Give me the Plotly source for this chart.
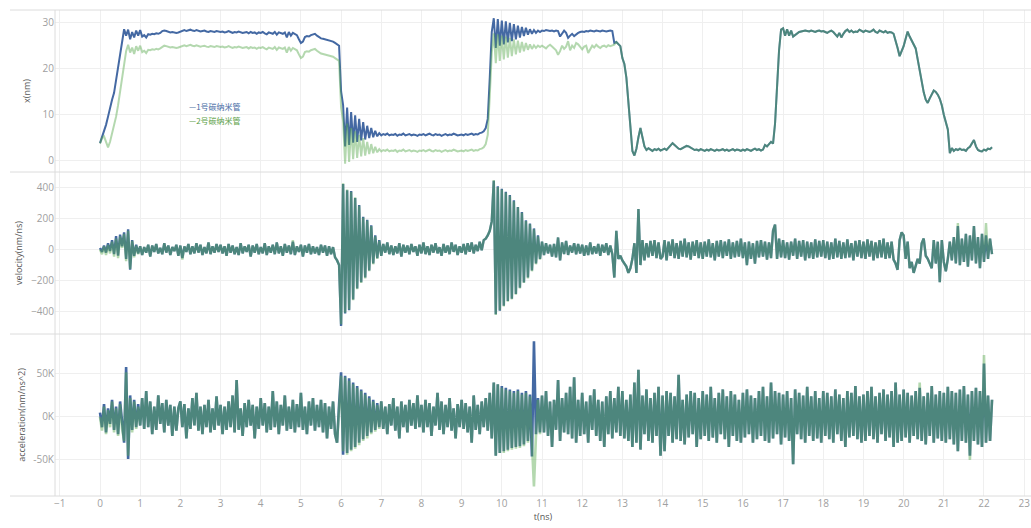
import numpy as np
import plotly.graph_objects as go
from plotly.subplots import make_subplots

# sampling interval of the recorded series (ns)
T_STEP = 0.05

# ---- displacement x(nm) ----
X1 = [
    3.7, 5.0, 6.3, 7.7, 9.5, 11.5, 13.2, 14.7, 17.5, 20.5, 23.5, 26.5, 28.6, 27.2, 28.5, 26.4, 28.0, 26.8, 28.3, 27.2,
    28.4, 27.0, 27.3, 26.8, 27.5, 27.4, 27.6, 27.5, 27.7, 27.6, 27.8, 28.2, 28.3, 28.2, 28.0, 27.9, 28.0, 27.9, 27.8, 27.9,
    28.1, 28.3, 28.4, 28.2, 28.4, 28.5, 28.3, 28.2, 28.4, 28.3, 28.1, 28.2, 28.3, 28.1, 28.0, 28.2, 28.1, 28.0, 28.2, 28.1,
    28.0, 28.1, 27.9, 28.0, 28.2, 28.0, 27.8, 28.0, 27.9, 28.1, 28.0, 27.8, 27.9, 28.0, 27.7, 28.0, 27.8, 27.9, 27.6, 27.9,
    27.8, 28.0, 27.7, 27.5, 27.9, 27.8, 27.6, 28.0, 27.4, 27.9, 27.8, 27.6, 27.9, 26.8, 28.0, 27.2, 27.8, 27.6, 27.3, 26.4,
    25.6, 25.9, 26.9, 27.1, 27.0, 27.3, 27.4, 27.6, 27.2, 26.8, 26.6, 26.5, 26.4, 26.3, 26.2, 26.1, 25.9, 25.6, 25.3, 25.0,
    15.0, 12.0, 3.0, 11.5, 3.3, 10.5, 3.8, 9.8, 4.0, 9.0, 4.3, 8.3, 4.5, 7.5, 4.8, 7.0, 5.0, 6.4, 5.2, 5.9,
    5.4, 5.7, 5.5, 5.8, 5.4, 5.6, 5.5, 5.7, 5.3, 5.6, 5.5, 5.8, 5.4, 5.5, 5.7, 5.4, 5.6, 5.5, 5.3, 5.6,
    5.5, 5.7, 5.4, 5.6, 5.8, 5.5, 5.4, 5.7, 5.5, 5.6, 5.3, 5.5, 5.7, 5.4, 5.6, 5.5, 5.8, 5.6, 5.4, 5.5,
    5.6, 5.4, 5.7, 5.5, 5.6, 5.8, 5.5, 5.7, 5.6, 5.9, 6.0, 6.3, 7.0, 9.0, 18.0, 28.0, 31.0, 24.5, 30.8, 25.0,
    30.5, 25.3, 30.3, 25.7, 30.0, 26.0, 29.7, 26.4, 29.4, 26.8, 29.1, 27.1, 28.9, 27.4, 28.6, 27.6, 28.4, 27.8, 28.3, 28.0,
    28.3, 28.2, 28.4, 28.3, 28.2, 28.3, 28.1, 28.3, 28.2, 27.0, 27.6, 28.3, 27.8, 26.7, 27.2, 27.6, 27.1, 27.5, 27.8, 28.0,
    28.1, 28.0, 28.2, 28.1, 28.3, 28.2, 28.1, 28.3, 28.2, 28.1, 28.3, 28.2, 28.1, 28.2, 28.3, 28.2, 25.6, 25.8, 25.3, 24.9,
    22.3, 21.0, 18.0, 12.0, 6.0, 2.0, 1.0, 2.5, 5.0, 7.0, 5.0, 3.0, 2.2, 2.6, 2.3, 2.0, 2.4, 2.2, 2.5, 2.1,
    2.3, 2.5, 2.2, 2.6, 3.2, 3.7, 3.3, 2.8, 2.5, 2.4, 2.6, 2.9, 3.1, 3.0, 2.7, 2.4, 2.2, 2.3, 2.1, 2.4,
    2.2, 2.0, 2.3, 2.1, 2.4, 2.2, 2.0, 2.3, 2.1, 2.2, 2.4, 2.1, 2.3, 2.0, 2.2, 2.4, 2.1, 2.3, 2.2, 2.0,
    2.3, 2.1, 2.4, 2.2, 2.0, 2.3, 2.5, 2.2, 2.4, 2.1, 2.3, 3.3, 3.0, 3.5, 4.0, 3.6, 8.0, 16.0, 24.0, 28.5,
    28.8, 27.2, 28.6, 27.2, 28.3, 27.0, 27.4, 27.6, 28.0, 28.1, 28.2, 28.3, 28.2, 28.1, 28.3, 28.2, 28.0, 28.2, 28.3, 28.1,
    28.2, 28.0, 27.8, 28.1, 28.3, 28.0, 27.5, 27.0, 27.8, 26.8, 27.6, 28.2, 28.5, 28.0, 28.3, 27.9, 28.1, 28.0, 28.5, 28.2,
    28.0, 28.3, 28.1, 28.0, 28.2, 28.5, 28.0, 27.8, 28.3, 28.1, 27.9, 28.2, 27.8, 28.0, 27.9, 27.6, 26.3, 24.5, 22.7, 23.8,
    24.9, 26.5, 28.1, 27.0, 26.0, 25.0, 24.4, 22.0, 19.5, 17.0, 14.8, 13.2, 12.5, 13.5, 14.5, 15.2, 14.9, 14.3, 13.4, 12.0,
    9.9, 8.5, 6.7, 1.5, 2.6, 2.0, 2.4, 2.2, 2.5, 2.2, 2.3, 2.0, 2.6, 2.9, 3.7, 4.4, 3.0, 2.2, 2.0, 1.9,
    2.3, 2.1, 2.5, 2.4, 2.8,
]
X2 = [
    3.6, 4.8, 5.2, 3.8, 2.8, 4.0, 5.8, 7.5, 9.5, 12.0, 15.0, 18.5, 21.5, 23.8, 25.2, 23.5, 24.6, 23.2, 24.9, 23.9,
    25.0, 23.6, 23.9, 23.4, 24.1, 24.0, 24.2, 24.1, 24.3, 24.2, 24.4, 24.8, 25.0, 24.9, 24.7, 24.6, 24.7, 24.6, 24.5, 24.6,
    24.8, 25.0, 25.1, 24.9, 25.1, 25.2, 25.0, 24.9, 25.1, 25.0, 24.8, 24.9, 25.0, 24.8, 24.7, 24.9, 24.8, 24.7, 24.9, 24.8,
    24.7, 24.8, 24.6, 24.7, 24.9, 24.7, 24.5, 24.7, 24.6, 24.8, 24.7, 24.5, 24.6, 24.7, 24.4, 24.7, 24.5, 24.6, 24.3, 24.6,
    24.5, 24.7, 24.4, 24.2, 24.6, 24.5, 24.3, 24.7, 24.1, 24.6, 24.5, 24.3, 24.6, 23.5, 24.7, 23.9, 24.5, 24.3, 24.0, 23.1,
    22.3, 22.6, 23.6, 23.8, 23.7, 24.0, 24.1, 24.3, 23.9, 23.5, 23.3, 23.2, 23.1, 23.0, 22.9, 22.8, 22.6, 22.3, 22.0, 21.7,
    11.5, 8.5, -0.8, 8.0, -0.4, 7.0, 0.2, 6.3, 0.5, 5.5, 0.8, 4.8, 1.0, 4.0, 1.3, 3.5, 1.5, 2.9, 1.7, 2.4,
    1.9, 2.2, 2.0, 2.3, 1.9, 2.1, 2.0, 2.2, 1.8, 2.1, 2.0, 2.3, 1.9, 2.0, 2.2, 1.9, 2.1, 2.0, 1.8, 2.1,
    2.0, 2.2, 1.9, 2.1, 2.3, 2.0, 1.9, 2.2, 2.0, 2.1, 1.8, 2.0, 2.2, 1.9, 2.1, 2.0, 2.3, 2.1, 1.9, 2.0,
    2.1, 1.9, 2.2, 2.0, 2.1, 2.3, 2.0, 2.2, 2.1, 2.4, 2.5, 2.8, 3.5, 5.5, 14.0, 23.5, 27.7, 21.2, 27.5, 21.7,
    27.2, 22.0, 27.0, 22.4, 26.7, 22.7, 26.4, 23.1, 26.1, 23.5, 25.8, 23.8, 25.6, 24.1, 25.3, 24.3, 25.1, 24.5, 25.0, 24.7,
    25.0, 24.6, 24.4, 24.9, 25.2, 24.8, 24.4, 24.0, 23.0, 23.8, 25.0, 24.3, 24.8, 26.0, 24.0, 25.0, 24.5, 25.6, 25.3, 24.8,
    24.2, 24.8, 25.0, 23.4, 24.1, 25.0, 24.6, 25.2, 24.8, 24.5, 24.9, 25.0, 24.7, 25.1, 24.9, 25.0, 25.2, 25.8, 25.3, 24.9,
    22.3, 21.0, 18.0, 12.0, 6.0, 2.0, 1.0, 2.5, 5.0, 7.0, 5.0, 3.0, 2.2, 2.6, 2.3, 2.0, 2.4, 2.2, 2.5, 2.1,
    2.3, 2.5, 2.2, 2.6, 3.2, 3.7, 3.3, 2.8, 2.5, 2.4, 2.6, 2.9, 3.1, 3.0, 2.7, 2.4, 2.2, 2.3, 2.1, 2.4,
    2.2, 2.0, 2.3, 2.1, 2.4, 2.2, 2.0, 2.3, 2.1, 2.2, 2.4, 2.1, 2.3, 2.0, 2.2, 2.4, 2.1, 2.3, 2.2, 2.0,
    2.3, 2.1, 2.4, 2.2, 2.0, 2.3, 2.5, 2.2, 2.4, 2.1, 2.3, 3.3, 3.0, 3.5, 4.0, 3.6, 8.0, 16.0, 24.0, 28.5,
    28.8, 27.2, 28.6, 27.2, 28.3, 27.0, 27.4, 27.6, 28.0, 28.1, 28.2, 28.3, 28.2, 28.1, 28.3, 28.2, 28.0, 28.2, 28.3, 28.1,
    28.2, 28.0, 27.8, 28.1, 28.3, 28.0, 27.5, 27.0, 27.8, 26.8, 27.6, 28.2, 28.5, 28.0, 28.3, 27.9, 28.1, 28.0, 28.5, 28.2,
    28.0, 28.3, 28.1, 28.0, 28.2, 28.5, 28.0, 27.8, 28.3, 28.1, 27.9, 28.2, 27.8, 28.0, 27.9, 27.6, 26.3, 24.5, 22.7, 23.8,
    24.9, 26.5, 28.1, 27.0, 26.0, 25.0, 24.4, 22.0, 19.5, 17.0, 14.8, 13.2, 12.5, 13.5, 14.5, 15.2, 14.9, 14.3, 13.4, 12.0,
    9.9, 8.5, 6.7, 1.5, 2.6, 2.0, 2.4, 2.2, 2.5, 2.2, 2.3, 2.0, 2.6, 2.9, 3.7, 4.4, 3.0, 2.2, 2.0, 1.9,
    2.3, 2.1, 2.5, 2.4, 2.8,
]

# ---- velocity (nm/ns) ----
V1 = [
    10, -15, 25, -20, 40, -10, 60, -30, 85, -40, 95, 20, 110, -60, 130, -130, 60, -40, 30, -25,
    20, -35, 15, -20, 30, -45, 25, -15, 35, -25, 10, -30, 40, -20, 25, -35, 15, -10, 30, -40,
    25, -55, 20, -15, 35, -30, 20, -25, 40, -20, 30, -35, 15, -25, 45, -30, 20, -20, 35, -15,
    30, -25, 20, -40, 35, -20, 25, -30, 15, -35, 40, -25, 20, -15, 30, -45, 25, -20, 35, -30,
    15, -25, 40, -35, 20, -20, 30, -30, 45, -25, 20, -40, 35, -20, 25, -30, 50, -35, 20, -15,
    30, -45, 25, -20, 35, -30, 20, -25, 15, -35, 30, -20, 25, -40, 20, -30, 15, -50, -70, -100,
    -490, 420, -410, 380, -390, 375, -320, 330, -250, 285, -210, 210, -180, 190, -135, 155, -90, 90, -55, 60,
    -40, 35, -20, 45, -30, 25, -35, 20, -25, 40, -45, 30, -20, 25, -30, 35, -15, 20, -40, 30,
    -25, 45, -30, 20, -35, 30, -20, 40, -25, 15, -40, 35, -20, 25, -30, 45, -15, 30, -35, 20,
    -20, 35, -30, 40, -15, 45, -25, 30, -10, 50, -5, 60, 70, 90, 120, 180, 440, -415, 405, -393,
    390, -360, 370, -330, 350, -316, 315, -285, 273, -245, 240, -212, 187, -180, 167, -135, 135, -90, 90, -60,
    50, -35, 40, -25, 30, -45, 35, -50, 77, -70, 45, -30, 55, -35, 25, -20, 40, -30, 35, -25,
    30, -40, 25, -35, 45, -30, 20, -25, 35, -40, 30, -20, 40, -35, 25, -30, -180, 120, -60, -40,
    -70, -90, -110, -150, -120, -60, 40, -150, 260, -100, 60, -70, 40, -50, 55, -40, 60, -55, 45, -60,
    -45, 60, -70, 50, -40, 65, -55, 40, -60, 55, -45, 70, -50, 45, -65, 50, -40, 60, -55, 45,
    -60, 50, -45, 65, -50, 40, -70, 55, -45, 60, -55, 50, -40, 65, -60, 45, -50, 55, -45, 70,
    -55, 45, -100, 50, -60, 40, -90, 55, -50, 60, -45, 50, -65, 45, -55, 120, 160, -60, 70, -50,
    60, -55, 45, -65, 50, -40, 70, -60, 55, -45, 60, -70, 50, -55, 45, -60, 65, -50, 55, -45,
    60, -55, 50, -65, 45, -60, 70, -50, 55, -60, 45, -55, 65, -50, 40, -70, 55, -45, 60, -55,
    50, -60, 65, -45, 55, -70, 45, -55, 60, -50, 70, -60, 45, -55, 50, -65, -90, -130, 60, 110,
    90, -60, 50, -120, -80, -150, -110, -60, -90, 40, 70, -40, -60, -90, -120, 60, -90, 50, -210, 60,
    -80, -140, -60, 50, -70, 80, -90, 150, -100, 70, -80, 100, -110, 90, -70, 150, -90, 80, -120, 100,
    -80, 90, -60, 70, -30,
]
V2 = [
    0, -30, 20, -35, 30, -25, 50, -45, 70, -55, 85, 10, 100, -75, 120, -125, 55, -50, 25, -30,
    20, -35, 15, -20, 30, -45, 25, -15, 35, -25, 10, -30, 40, -20, 25, -35, 15, -10, 30, -40,
    25, -65, 20, -15, 35, -30, 20, -25, 40, -20, 30, -35, 15, -25, 45, -30, 20, -20, 35, -15,
    30, -25, 20, -40, 35, -20, 25, -30, 15, -35, 40, -25, 20, -15, 30, -45, 25, -20, 35, -30,
    15, -25, 40, -35, 20, -20, 30, -30, 45, -25, 20, -40, 35, -20, 25, -30, 60, -35, 20, -15,
    30, -45, 25, -20, 35, -30, 20, -25, 15, -35, 30, -20, 25, -40, 20, -30, 15, -50, -70, -100,
    -480, 425, -405, 385, -385, 370, -325, 335, -255, 280, -215, 205, -185, 185, -140, 150, -95, 85, -60, 55,
    -40, 35, -20, 45, -30, 25, -35, 20, -25, 40, -45, 30, -20, 25, -30, 35, -15, 20, -40, 30,
    -25, 45, -30, 20, -35, 30, -20, 40, -25, 15, -40, 35, -20, 25, -30, 45, -15, 30, -35, 20,
    -20, 35, -30, 40, -15, 45, -25, 30, -10, 50, -5, 60, 70, 90, 120, 180, 445, -420, 400, -390,
    385, -365, 365, -335, 345, -320, 310, -290, 270, -250, 235, -215, 182, -185, 162, -140, 130, -95, 85, -65,
    50, -35, 40, -25, 30, -45, 35, -50, 77, -70, 45, -30, 55, -35, 25, -20, 40, -30, 35, -25,
    30, -40, 25, -35, 45, -30, 20, -25, 35, -40, 30, -20, 40, -35, 25, -30, -180, 120, -60, -40,
    -70, -90, -110, -150, -120, -60, 40, -150, 260, -100, 60, -70, 40, -50, 55, -40, 60, -55, 45, -60,
    -45, 60, -70, 50, -40, 65, -55, 40, -60, 55, -45, 70, -50, 45, -65, 50, -40, 60, -55, 45,
    -60, 50, -45, 65, -50, 40, -70, 55, -45, 60, -55, 50, -40, 65, -60, 45, -50, 55, -45, 70,
    -55, 45, -100, 50, -60, 40, -90, 55, -50, 60, -45, 50, -65, 45, -55, 120, 160, -60, 70, -50,
    60, -55, 45, -65, 50, -40, 70, -60, 55, -45, 60, -70, 50, -55, 45, -60, 65, -50, 55, -45,
    60, -55, 50, -65, 45, -60, 70, -50, 55, -60, 45, -55, 65, -50, 40, -70, 55, -45, 60, -55,
    50, -60, 65, -45, 55, -70, 45, -55, 60, -50, 70, -60, 45, -55, 50, -65, -90, -130, 60, 110,
    90, -60, 50, -120, -80, -150, -110, -60, -90, 40, 70, -40, -60, -90, -120, 60, -90, 50, -210, 60,
    -80, -140, -60, 50, -70, 80, -90, 170, -100, 70, -80, 100, -110, 90, -70, 150, -90, 80, -120, 100,
    -80, 170, -60, 70, -30,
]

# ---- acceleration (thousands of nm/ns^2) ----
A1 = [
    5, -12, 15, -18, 10, -8, 20, -15, 12, -20, 18, -10, -30, 58, -49, 25, -15, 20, -12, 15,
    -10, 22, -14, 30, -12, 18, -20, 12, -15, 25, -8, 16, -18, 20, -10, 14, -22, 12, -16, 10,
    18, -12, 15, -25, 10, -14, 22, -10, 28, -16, 12, -20, 14, -12, 20, -18, 10, -15, 24, -10,
    14, -20, 12, -15, 18, -12, 25, -18, 43, -15, 10, -22, 16, -12, 20, -10, 14, -25, 12, -14,
    22, -10, 16, -18, 12, -15, 30, -12, 18, -20, 14, -10, 25, -16, 12, -14, 20, -18, 15, -12,
    28, -15, 12, -20, 18, -10, 22, -16, 14, -12, 20, -18, 16, -25, 12, -14, 18, -20, -30, 15,
    52, -44, 48, -42, 45, -38, 40, -35, 36, -30, 32, -26, 28, -22, 24, -18, 20, -15, 16, -12,
    18, -14, 12, -20, 15, -10, 22, -16, 12, -25, 18, -12, 14, -18, 20, -10, 16, -14, 25, -12,
    14, -18, 20, -12, 16, -22, 12, -10, 28, -15, 18, -20, 14, -12, 22, -16, 10, -25, 15, -12,
    20, -14, 16, -18, 12, -30, 25, -15, 14, -20, 18, -12, 22, -16, 28, -25, 40, -45, 38, -42,
    36, -40, 34, -38, 32, -36, 30, -35, 32, -34, 28, -32, 30, -28, 26, -46, 88, -20, 22, -18,
    25, -18, 30, -22, 18, -35, 20, -15, 43, -28, 22, -18, 28, -20, 35, -25, 46, -30, 20, -22,
    28, -20, 18, -30, 25, -15, 32, -22, 20, -28, 18, -35, 24, -20, 30, -25, 22, -18, 35, -22,
    30, -25, 20, -28, 26, -35, 40, -30, 55, -38, 25, -20, 32, -28, 22, -30, 28, -22, 35, -45,
    25, -40, 30, -22, 28, -30, 24, -26, 49, -28, 20, -32, 26, -24, 30, -20, 28, -35, 22, -26,
    30, -22, 26, -28, 35, -24, 22, -30, 28, -20, 32, -26, 24, -35, 30, -22, 26, -28, 20, -30,
    28, -24, 32, -20, 25, -30, 22, -26, 30, -22, 35, -28, 24, -30, 40, -25, 30, -20, 28, -32,
    26, -24, 30, -28, 22, -55, 32, -20, 28, -26, 25, -30, 35, -22, 24, -28, 30, -25, 22, -30,
    30, -22, 28, -26, 24, -30, 32, -20, 26, -28, 22, -35, 30, -24, 28, -22, 36, -26, 24, -30,
    26, -28, 30, -22, 35, -26, 24, -30, 28, -20, 32, -28, 26, -24, 30, -35, 40, -30, 26, -28,
    32, -24, 28, -30, 25, -22, 30, -26, 34, -28, 24, -32, 28, -22, 36, -30, 26, -25, 30, -28,
    28, -30, 35, -26, 30, -32, 28, -40, 32, -28, 36, -30, 26, -45, 30, -28, 34, -32, 30, -35,
    62, -30, 25, -28, 20,
]
A2 = [
    0, -16, 12, -20, 8, -12, 18, -18, 10, -22, 15, -14, -28, 52, -45, 22, -18, 18, -14, 12,
    -10, 22, -14, 30, -12, 18, -20, 12, -15, 25, -8, 16, -18, 20, -10, 14, -22, 12, -16, 10,
    18, -12, 15, -25, 10, -14, 22, -10, 28, -16, 12, -20, 14, -12, 20, -18, 10, -15, 24, -10,
    14, -20, 12, -15, 18, -12, 25, -18, 43, -15, 10, -22, 16, -12, 20, -10, 14, -25, 12, -14,
    22, -10, 16, -18, 12, -15, 30, -12, 18, -20, 14, -10, 25, -16, 12, -14, 20, -18, 15, -12,
    28, -15, 12, -20, 18, -10, 22, -16, 14, -12, 20, -18, 16, -25, 12, -14, 18, -20, -30, 15,
    48, -40, 46, -44, 42, -40, 38, -37, 34, -33, 30, -28, 26, -25, 22, -20, 18, -17, 14, -14,
    18, -14, 12, -20, 15, -10, 22, -16, 12, -25, 18, -12, 14, -18, 20, -10, 16, -14, 25, -12,
    14, -18, 20, -12, 16, -22, 12, -10, 28, -15, 18, -20, 14, -12, 22, -16, 10, -25, 15, -12,
    20, -14, 16, -18, 12, -30, 25, -15, 14, -20, 18, -12, 22, -16, 28, -25, 40, -45, 38, -42,
    34, -42, 32, -40, 30, -38, 28, -37, 30, -36, 26, -34, 28, -30, 24, -30, -81, -22, 20, -20,
    25, -18, 30, -22, 18, -35, 20, -15, 43, -28, 22, -18, 28, -20, 35, -25, 46, -30, 20, -22,
    28, -20, 18, -30, 25, -15, 32, -22, 20, -28, 18, -35, 24, -20, 30, -25, 22, -18, 35, -22,
    30, -25, 20, -28, 26, -35, 40, -30, 55, -38, 25, -20, 32, -28, 22, -30, 28, -22, 35, -45,
    25, -40, 30, -22, 28, -30, 24, -26, 49, -28, 20, -32, 26, -24, 30, -20, 28, -35, 22, -26,
    30, -22, 26, -28, 35, -24, 22, -30, 28, -20, 32, -26, 24, -35, 30, -22, 26, -28, 20, -30,
    28, -24, 32, -20, 25, -30, 22, -26, 30, -22, 35, -28, 24, -30, 40, -25, 30, -20, 28, -32,
    26, -24, 30, -28, 22, -55, 32, -20, 28, -26, 25, -30, 35, -22, 24, -28, 30, -25, 22, -30,
    30, -22, 28, -26, 24, -30, 32, -20, 26, -28, 22, -35, 30, -24, 28, -22, 36, -26, 24, -30,
    26, -28, 30, -22, 35, -26, 24, -30, 28, -20, 32, -28, 26, -24, 30, -35, 40, -30, 26, -28,
    32, -24, 28, -30, 25, -22, 30, -26, 40, -28, 24, -32, 28, -22, 36, -30, 26, -25, 30, -28,
    28, -30, 35, -26, 30, -32, 28, -40, 32, -28, 36, -30, 26, -50, 30, -28, 34, -32, 30, -35,
    72, -30, 25, -28, 20,
]

SERIES_NAMES = ["1号碳纳米管", "2号碳纳米管"]
X_TICKS = list(range(-1, 24))
Y1_TICKS = [0, 10, 20, 30]
Y2_TICKS = [-400, -200, 0, 200, 400]
Y3_TICKS = [-50, 0, 50]
Y3_TICKTEXT = ["-50K", "0K", "50K"]

BLUE = "#4469a3"
GREEN = "#5aab50"
GREEN_TXT = "#5a9e46"

n = min(len(X1), len(X2), len(V1), len(V2), len(A1), len(A2))
t = np.round(np.arange(n) * T_STEP, 3)

fig = make_subplots(rows=3, cols=1, shared_xaxes=True, vertical_spacing=0)

panels = [(X1, X2, 1, 2.0), (V1, V2, 2, 2.4), (A1, A2, 3, 2.6)]
for s1, s2, r, w in panels:
    fig.add_trace(go.Scatter(x=t, y=s1[:n], mode="lines", name=SERIES_NAMES[0],
                             line=dict(color=BLUE, width=w), showlegend=False), row=r, col=1)
    fig.add_trace(go.Scatter(x=t, y=s2[:n], mode="lines", name=SERIES_NAMES[1],
                             line=dict(color=GREEN, width=w), opacity=0.45,
                             showlegend=False), row=r, col=1)

grid = "#efefef"
tickfont = dict(family="Open Sans, Arial", size=10, color="#a0a0a0")
titlefont = dict(family="Open Sans, Arial", size=9, color="#555555")

fig.update_xaxes(range=[-1.12, 23.17], tickvals=X_TICKS, showgrid=True, gridcolor=grid,
                 zeroline=False, showline=False, ticks="", tickfont=tickfont)
fig.update_xaxes(title=dict(text="t(ns)", font=titlefont, standoff=4), row=3, col=1)

fig.update_yaxes(range=[-2.6, 32.8], tickvals=Y1_TICKS, row=1, col=1,
                 title=dict(text="x(nm)", font=titlefont, standoff=10))
fig.update_yaxes(range=[-542, 497], tickvals=Y2_TICKS, row=2, col=1,
                 title=dict(text="velocity(nm/ns)", font=titlefont, standoff=6))
fig.update_yaxes(range=[-92, 96.5], tickvals=Y3_TICKS, ticktext=Y3_TICKTEXT, row=3, col=1,
                 title=dict(text="acceleration(nm/ns^2)", font=titlefont, standoff=6))
fig.update_yaxes(showgrid=True, gridcolor=grid, zeroline=False, showline=False,
                 ticks="", tickfont=tickfont)

# frame lines (panel separators and left axis line)
L = 55
W = 1031 - L
x_left = (10 - L) / W
sep = "#dcdcdc"
for yv in [0, 1 / 3, 2 / 3, 1]:
    fig.add_shape(type="line", xref="paper", yref="paper", x0=x_left, x1=1, y0=yv, y1=yv,
                  line=dict(color=sep, width=1))
fig.add_shape(type="line", xref="paper", yref="paper", x0=0, x1=0, y0=0, y1=1,
              line=dict(color=sep, width=1))

# legend labels inside the top panel
fig.add_annotation(x=2.17, y=11.8, xref="x", yref="y", xanchor="left", yanchor="middle",
                   text="—" + SERIES_NAMES[0], showarrow=False,
                   font=dict(family="Noto Sans CJK SC", size=8, color=BLUE))
fig.add_annotation(x=2.17, y=8.6, xref="x", yref="y", xanchor="left", yanchor="middle",
                   text="—" + SERIES_NAMES[1], showarrow=False,
                   font=dict(family="Noto Sans CJK SC", size=8, color=GREEN_TXT))

fig.update_layout(width=1031, height=528, margin=dict(l=L, r=0, t=10, b=32),
                  plot_bgcolor="white", paper_bgcolor="white", showlegend=False)

fig.write_html("out.html")
